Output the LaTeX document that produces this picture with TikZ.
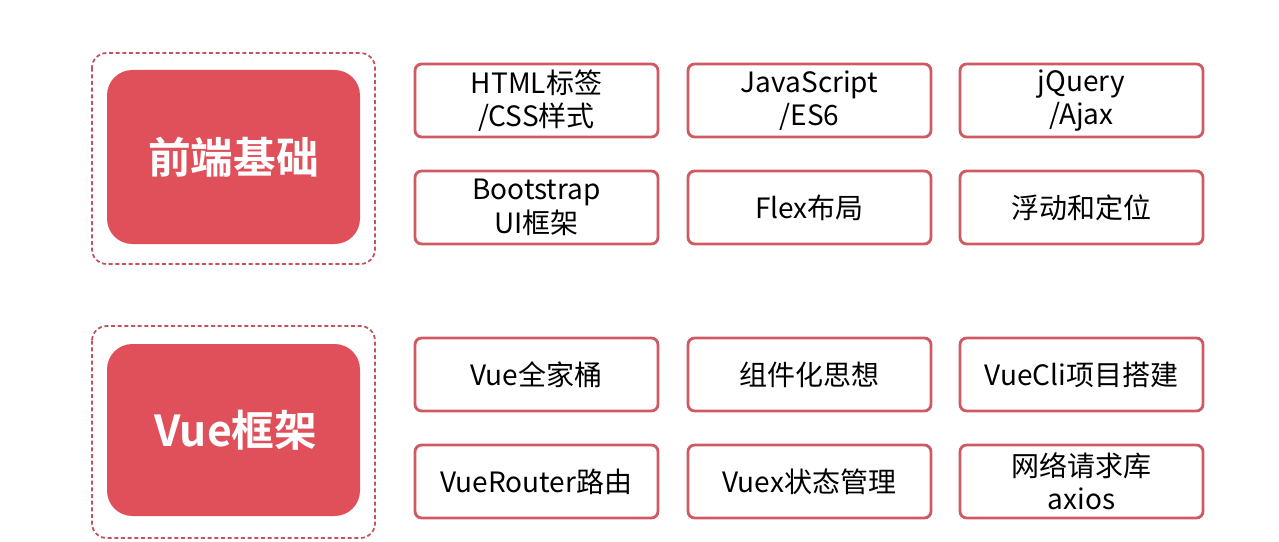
\documentclass[tikz,border=0pt]{standalone}
\usepackage{fontspec}
\setmainfont{Noto Sans CJK SC}
\newfontfamily\cjkbold{Noto Sans CJK SC Bold}
\definecolor{redfill}{HTML}{E0505A}
\definecolor{redline}{HTML}{D05A62}
\definecolor{dashline}{HTML}{C4525C}
\begin{document}
\begin{tikzpicture}[x=0.75pt,y=-0.75pt,
  outer/.style={draw=dashline,dash pattern=on 3pt off 2pt,line width=1.3pt,rounded corners=11pt},
  bigbox/.style={fill=redfill,draw=none,rounded corners=19pt},
  title/.style={font=\cjkbold\fontsize{32}{36}\selectfont,text=white},
  item/.style={draw=redline,line width=2.1pt,rounded corners=5pt},
  itemtext/.style={font=\fontsize{21}{25}\selectfont,align=center,text=black}]
\useasboundingbox (0,0) rectangle (1279,542);
% section 1
\draw[outer] (92,53) rectangle (375,264);
\path[bigbox] (107,70) rectangle (360,244);
\node[title] (t1) at (233.5,157) {前端基础};
% section 2
\draw[outer] (92,326) rectangle (375,538);
\path[bigbox] (107,344) rectangle (360,516);
\node[title] (t2) at (236,430) {Vue框架};
% items
\newcommand{\itembox}[4]{%
  \draw[item] (#1,#2) rectangle ++(243,73);
  \node[itemtext] (#3) at ({#1+121.5},{#2+36.5}) {#4};}
\itembox{415}{64}{a1}{HTML标签\\/CSS样式}
\itembox{688}{64}{a2}{JavaScript\\/ES6}
\itembox{960}{64}{a3}{jQuery\\/Ajax}
\itembox{415}{171}{a4}{Bootstrap\\UI框架}
\itembox{688}{171}{a5}{Flex布局}
\itembox{960}{171}{a6}{浮动和定位}
\itembox{415}{338}{b1}{Vue全家桶}
\itembox{688}{338}{b2}{组件化思想}
\itembox{960}{338}{b3}{VueCli项目搭建}
\itembox{415}{445}{b4}{VueRouter路由}
\itembox{688}{445}{b5}{Vuex状态管理}
\itembox{960}{445}{b6}{网络请求库\\axios}
\end{tikzpicture}
\end{document}
